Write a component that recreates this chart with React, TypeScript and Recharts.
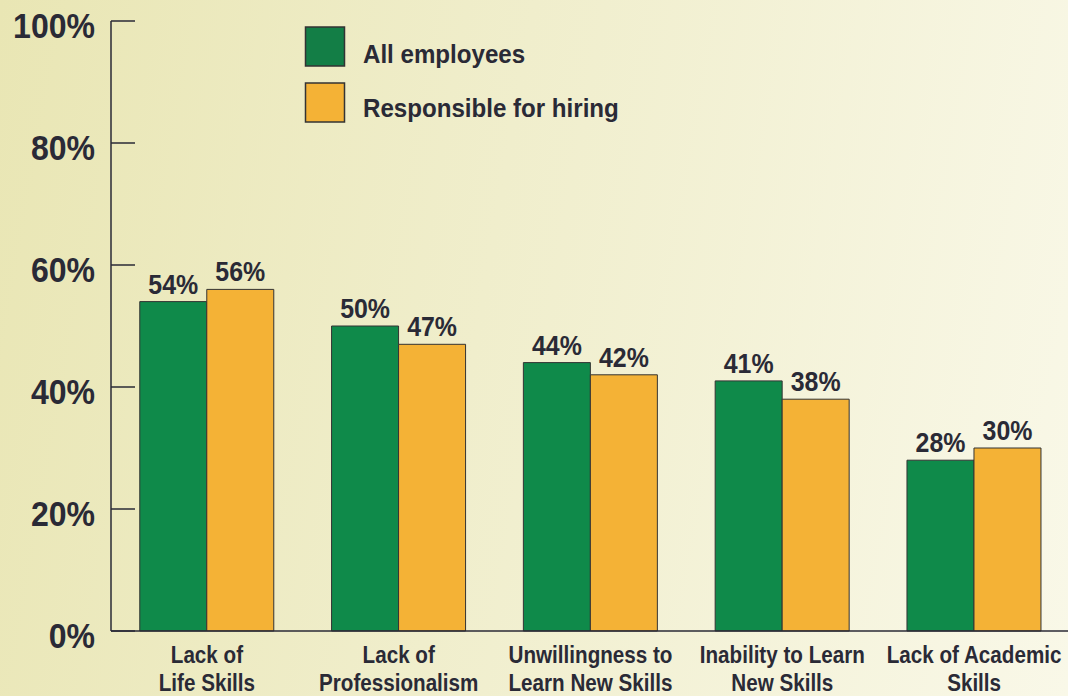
import React from 'react';
import { BarChart, Bar, XAxis, YAxis, LabelList } from 'recharts';

const categories = [
  ['Lack of', 'Life Skills'],
  ['Lack of', 'Professionalism'],
  ['Unwillingness to', 'Learn New Skills'],
  ['Inability to Learn', 'New Skills'],
  ['Lack of Academic', 'Skills'],
];
const allEmployees = [54, 50, 44, 41, 28];
const responsibleForHiring = [56, 47, 42, 38, 30];
const yTicks = [0, 20, 40, 60, 80, 100];
const seriesNames = ['All employees', 'Responsible for hiring'];

const FONT = "'Liberation Sans', Arial, sans-serif";
const INK = '#2a2a36';
const GREEN = '#0f8a4a';
const ORANGE = '#f4b236';

const data = categories.map((c, i) => ({
  name: c.join(' '),
  all: allEmployees[i],
  hiring: responsibleForHiring[i],
}));

// narrow bold text: Arial-metric font squeezed horizontally
const Narrow = ({ x, y, size, sx, anchor = 'middle', children }: any) => (
  <text transform={`translate(${x},${y}) scale(${sx},1)`} textAnchor={anchor} fill={INK}
    style={{ fontFamily: FONT, fontWeight: 700, fontSize: size }}>
    {children}
  </text>
);

const YTick = (props: any) => {
  const { x, y, payload } = props;
  return (
    <g>
      <line x1={x} x2={x + 24} y1={y} y2={y} stroke={INK} strokeWidth={1.5} />
      <Narrow x={x - 16} y={y + 17} size={36} sx={0.89} anchor="end">{payload.value}%</Narrow>
    </g>
  );
};

const XTick = (props: any) => {
  const { x, y, index } = props;
  const lines = categories[index] || [];
  return (
    <g>
      {lines.map((l, i) => (
        <Narrow key={i} x={x} y={y + 32 + i * 28} size={24} sx={0.86}>{l}</Narrow>
      ))}
    </g>
  );
};

const ValueLabel = (props: any) => {
  const { x, y, width, value } = props;
  return <Narrow x={x + width / 2} y={y - 8} size={28} sx={0.89}>{value}%</Narrow>;
};

const LegendBox = () => {
  const colors = ['#137e46', ORANGE];
  return (
    <svg width={700} height={130} style={{ position: 'absolute', left: 0, top: 0 }}>
      {seriesNames.map((name, i) => (
        <g key={name}>
          <rect x={305.5} y={27 + i * 56} width={39} height={39} fill={colors[i]} stroke="#333" strokeWidth={1.5} />
          <Narrow x={363} y={63 + i * 54} size={25} sx={0.965} anchor="start">{name}</Narrow>
        </g>
      ))}
    </svg>
  );
};

export default function App() {
  return (
    <div style={{
      position: 'absolute', left: 0, top: 0, width: 1068, height: 696, overflow: 'hidden',
      background: 'linear-gradient(100deg, #e9e6b4 0%, #f0eecc 45%, #f9f8e8 100%)',
    }}>
      <BarChart width={1070} height={696} data={data}
        margin={{ top: 21, right: 0, left: 0, bottom: 0 }}
        barCategoryGap="15%" barGap={0}>
        <XAxis dataKey="name" axisLine={{ stroke: INK, strokeWidth: 1.5 }} tickLine={false}
          tick={<XTick />} interval={0} height={65} tickSize={0} tickMargin={0} />
        <YAxis domain={[0, 100]} ticks={yTicks} width={111} axisLine={{ stroke: INK, strokeWidth: 1.5 }}
          tickLine={false} tickSize={0} tickMargin={0} tick={<YTick />} interval={0} />
        <Bar dataKey="all" name={seriesNames[0]} fill={GREEN} stroke="#333" strokeWidth={1} isAnimationActive={false}>
          <LabelList dataKey="all" content={<ValueLabel />} />
        </Bar>
        <Bar dataKey="hiring" name={seriesNames[1]} fill={ORANGE} stroke="#333" strokeWidth={1} isAnimationActive={false}>
          <LabelList dataKey="hiring" content={<ValueLabel />} />
        </Bar>
      </BarChart>
      <LegendBox />
    </div>
  );
}
